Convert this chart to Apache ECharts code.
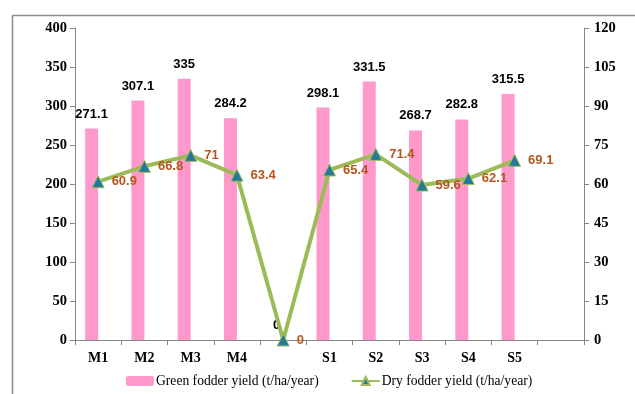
<!DOCTYPE html>
<html>
<head>
<meta charset="utf-8">
<script src="https://cdn.jsdelivr.net/npm/echarts@6/dist/echarts.min.js"></script>
<style>
html,body{margin:0;padding:0;background:#fff;}
#main{width:635px;height:394px;}
</style>
</head>
<body>
<div id="main"></div>
<script>
var categories = ['M1','M2','M3','M4','','S1','S2','S3','S4','S5',''];
var greenYield = [271.1, 307.1, 335, 284.2, 0, 298.1, 331.5, 268.7, 282.8, 315.5, null];
var dryYield = [60.9, 66.8, 71, 63.4, 0, 65.4, 71.4, 59.6, 62.1, 69.1, null];
var hiddenSlot = [null, null, null, null, null, null, null, null, null, null, null];
var seriesNames = ['Green fodder yield (t/ha/year)', 'Dry fodder yield (t/ha/year)'];

var chart = echarts.init(document.getElementById('main'));
var serif = '"Liberation Serif", "Times New Roman", serif';
var sans = '"Liberation Sans", Arial, sans-serif';
var axisLine = {show: true, lineStyle: {color: '#868686', width: 1}};
var axisTick = {show: true, length: 5, lineStyle: {color: '#868686'}};

chart.setOption({
  animation: false,
  backgroundColor: '#fff',
  graphic: [{
    type: 'rect', left: 10, top: 13, shape: {width: 660, height: 420},
    style: {fill: 'none', stroke: '#8c8c8c', lineWidth: 1.5}, silent: true, z: -1
  }],
  grid: {left: 75, right: 51, top: 28, bottom: 54},
  legend: {
    data: seriesNames,
    left: 121, top: 369,
    itemWidth: 28, itemHeight: 10, itemGap: 32,
    textStyle: {fontFamily: serif, fontSize: 13.6, color: '#000', padding: [0,0,0,-3]}
  },
  xAxis: {
    type: 'category', data: categories,
    axisLine: axisLine, axisTick: axisTick,
    axisLabel: {fontFamily: serif, fontWeight: 'bold', fontSize: 14, color: '#000', margin: 11}
  },
  yAxis: [{
    type: 'value', min: 0, max: 400, interval: 50,
    axisLine: axisLine, axisTick: axisTick, splitLine: {show: false},
    axisLabel: {fontFamily: serif, fontWeight: 'bold', fontSize: 14.5, color: '#000', margin: 8}
  }, {
    type: 'value', min: 0, max: 120, interval: 15, position: 'right',
    axisLine: axisLine, axisTick: axisTick, splitLine: {show: false},
    axisLabel: {fontFamily: serif, fontWeight: 'bold', fontSize: 14.5, color: '#000', margin: 10}
  }],
  series: [{
    name: seriesNames[0], type: 'bar', data: greenYield,
    barWidth: 13, barGap: '0%',
    itemStyle: {color: '#FF99CC'},
    label: {show: true, position: 'top', distance: 8,
      fontFamily: sans, fontWeight: 'bold', fontSize: 13, color: '#000'}
  }, {
    name: 'hidden', type: 'bar', data: hiddenSlot,
    barWidth: 13, barGap: '0%', itemStyle: {color: 'transparent'}
  }, {
    name: seriesNames[1], type: 'line', yAxisIndex: 1, data: dryYield,
    symbol: 'triangle', symbolSize: 12,
    lineStyle: {color: '#9BBB59', width: 4},
    itemStyle: {color: '#23799A', borderColor: '#9BBB59', borderWidth: 1},
    label: {show: true, position: 'right', distance: 7,
      fontFamily: sans, fontWeight: 'bold', fontSize: 13, color: '#B5561C'},
    z: 5
  }]
});
</script>
</body>
</html>
